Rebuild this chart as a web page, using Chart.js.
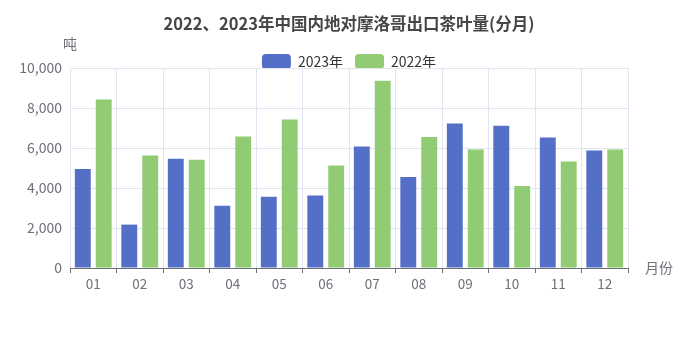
<!DOCTYPE html>
<html>
<head>
<meta charset="utf-8">
<script src="https://cdn.jsdelivr.net/npm/chart.js@4/dist/chart.umd.min.js"></script>
<style>
html,body{margin:0;padding:0;background:#fff;}
#wrap{width:698px;height:349px;}
</style>
</head>
<body>
<div id="wrap"><canvas id="c" width="698" height="349"></canvas></div>
<script>
const months = ['01','02','03','04','05','06','07','08','09','10','11','12'];
const values2023 = [4950, 2170, 5460, 3110, 3560, 3630, 6070, 4550, 7230, 7110, 6520, 5880];
const values2022 = [8420, 5630, 5410, 6570, 7430, 5130, 9360, 6550, 5920, 4100, 5330, 5930];
const yTicks = [0, 2000, 4000, 6000, 8000, 10000];
const titleText = '2022、2023年中国内地对摩洛哥出口茶叶量(分月)';
const yName = '吨';
const xName = '月份';

const FONT = "'Noto Sans CJK SC', 'Noto Sans', sans-serif";
const axisNames = {
  id: 'axisNames',
  beforeLayout(chart) {
    const lg = chart.legend;
    if (lg && !lg._patched) {
      const orig = lg.fit;
      lg.fit = function() { orig.call(this); this.height -= 11; };
      lg._patched = true;
    }
  },
  afterDraw(chart) {
    const ctx = chart.ctx;
    const a = chart.chartArea;
    ctx.save();
    ctx.fillStyle = '#6e7079';
    ctx.font = '14px ' + FONT;
    ctx.textBaseline = 'middle';
    ctx.textAlign = 'center';
    ctx.fillText(yName, a.left, 44);
    ctx.textAlign = 'left';
    ctx.fillText(xName, a.right + 17, a.bottom);
    ctx.restore();
  }
};

new Chart(document.getElementById('c'), {
  type: 'bar',
  data: {
    labels: months,
    datasets: [
      {label: '2023年', data: values2023, backgroundColor: '#5470c6', borderWidth: 0, yAxisID: 'y'},
      {label: '2022年', data: values2022, backgroundColor: '#91cc75', borderWidth: 0, yAxisID: 'y'}
    ]
  },
  options: {
    responsive: false,
    animation: false,
    devicePixelRatio: 1,
    categoryPercentage: 0.9,
    barPercentage: 0.76,
    layout: {padding: 0},
    plugins: {
      title: {
        display: true,
        text: titleText,
        color: '#464646',
        font: {family: FONT, size: 16.5, weight: 'bold'},
        padding: {top: 13.5, bottom: 8.7}
      },
      legend: {
        display: true,
        labels: {
          color: '#333',
          font: {family: FONT, size: 14},
          boxWidth: 29,
          boxHeight: 15,
          useBorderRadius: true,
          borderRadius: 4,
          padding: 12
        }
      },
      tooltip: {enabled: false}
    },
    scales: {
      x: {
        offset: true,
        grid: {display: true, offset: true, color: '#e0e6f1', tickColor: '#6e7079', tickLength: 5, drawTicks: true},
        border: {display: true, color: '#6e7079'},
        ticks: {color: '#6e7079', font: {family: FONT, size: 13.5}, padding: 3},
        afterFit(s) { s.height = 81; }
      },
      y: {
        min: 0, max: 10000,
        afterBuildTicks(s) { s.ticks = yTicks.map(v => ({value: v})); },
        grid: {color: '#e0e6f1', drawTicks: false},
        border: {display: false},
        ticks: {color: '#6e7079', font: {family: FONT, size: 14}, padding: 8,
          callback: v => v.toLocaleString('en-US')},
        afterFit(s) { s.width = 70; }
      },
      yRight: {
        position: 'right',
        display: true,
        min: 0, max: 10000,
        grid: {display: false, drawTicks: false},
        border: {display: false},
        ticks: {display: false},
        afterFit(s) { s.width = 70; }
      }
    }
  },
  plugins: [axisNames]
});
</script>
</body>
</html>
